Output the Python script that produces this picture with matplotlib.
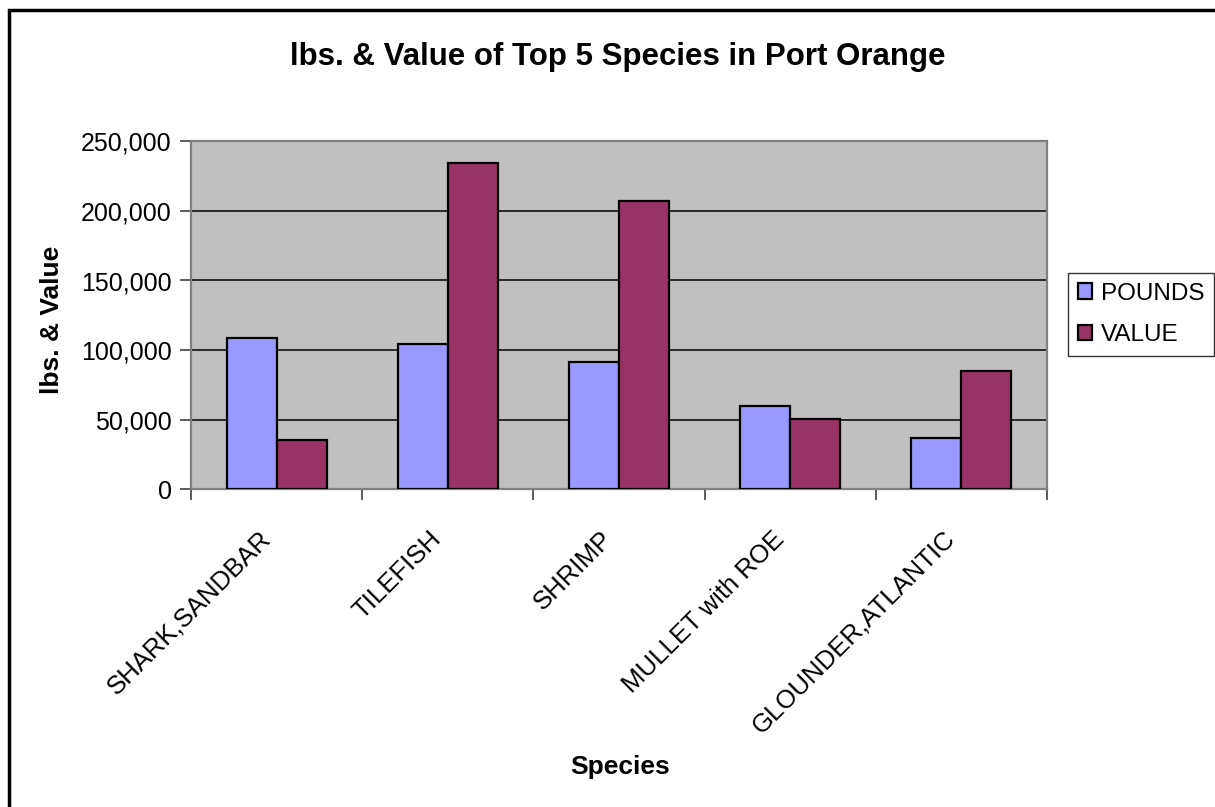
import matplotlib
matplotlib.use("Agg")
import matplotlib.pyplot as plt
import matplotlib.transforms as mtransforms
import numpy as np
from matplotlib.patches import Rectangle
from matplotlib.ticker import FuncFormatter, FixedLocator

plt.rcParams['font.family'] = ['Liberation Sans', 'DejaVu Sans']

species = ['SHARK,SANDBAR', 'TILEFISH', 'SHRIMP', 'MULLET with ROE', 'GLOUNDER,ATLANTIC']
pounds = [108600, 104300, 91400, 60000, 37100]
value = [35700, 234300, 207100, 50400, 84700]
y_ticks = [0, 50000, 100000, 150000, 200000, 250000]

W, H = 1215, 807
fig = plt.figure(figsize=(W / 100, H / 100), dpi=100)
ax = fig.add_axes([191 / W, 1 - 489.3 / H, 856 / W, 348 / H])

x = np.arange(len(species))
w = 0.292
ax.bar(x - w / 2, pounds, w, color='#9999FF', edgecolor='black', linewidth=1.6,
       label='POUNDS', zorder=3)
ax.bar(x + w / 2, value, w, color='#993366', edgecolor='black', linewidth=1.6,
       label='VALUE', zorder=3)

ax.set_facecolor('#C0C0C0')
ax.set_xlim(-0.5, len(species) - 0.5)
ax.set_ylim(0, 250000)
ax.set_yticks(y_ticks)
ax.yaxis.set_major_formatter(FuncFormatter(lambda v, p: f'{int(v):,}'))
ax.yaxis.grid(True, color='black', linewidth=1.1, zorder=1)
ax.set_axisbelow(True)

# category boundaries carry the tick marks, labels sit at the centres
ax.xaxis.set_major_locator(FixedLocator(np.arange(-0.5, len(species), 1.0)))
ax.xaxis.set_major_formatter(FuncFormatter(lambda v, p: ''))
ax.xaxis.set_minor_locator(FixedLocator(x))
ax.set_xticklabels(species, minor=True)
ax.tick_params(axis='x', which='minor', length=0, pad=33, labelsize=18.5)
shift = mtransforms.ScaledTranslation(-10 / 100, 0, fig.dpi_scale_trans)
for lab in ax.get_xticklabels(minor=True):
    lab.set_rotation(45)
    lab.set_ha('right')
    lab.set_va('center')
    lab.set_rotation_mode('anchor')
    lab.set_transform(lab.get_transform() + shift)
ax.tick_params(axis='x', which='major', length=8, width=1.2, color='#404040')
ax.tick_params(axis='y', length=8, width=1.2, color='#404040', labelsize=18, pad=6)

for s in ax.spines.values():
    s.set_color('#808080')
    s.set_linewidth(1.6)

fig.text(52 / W, 1 - 320 / H, 'lbs. & Value', rotation=90, ha='center', va='center',
         fontsize=19, fontweight='bold')
fig.text(620 / W, 1 - 767 / H, 'Species', ha='center', va='center',
         fontsize=19, fontweight='bold')
fig.text(618 / W, 1 - 57 / H, 'lbs. & Value of Top 5 Species in Port Orange',
         ha='center', va='center', fontsize=22.5, fontweight='bold')

leg = ax.legend(loc='upper left', bbox_to_anchor=(1068 / W, 1 - 273 / H),
                bbox_transform=fig.transFigure, fontsize=17.5, frameon=True,
                fancybox=False, edgecolor='black', handlelength=0.6,
                handleheight=0.6, handletextpad=0.35, labelspacing=0.8,
                borderpad=0.4, borderaxespad=0)
leg.get_frame().set_linewidth(1.0)

# outer chart frame
fig.patches.append(Rectangle((8.5 / W, -0.1), 1.2, 1.1 - 9.5 / H,
                             transform=fig.transFigure, fill=False,
                             edgecolor='black', linewidth=2.5))

fig.savefig('out.png', dpi=100, facecolor='white')
